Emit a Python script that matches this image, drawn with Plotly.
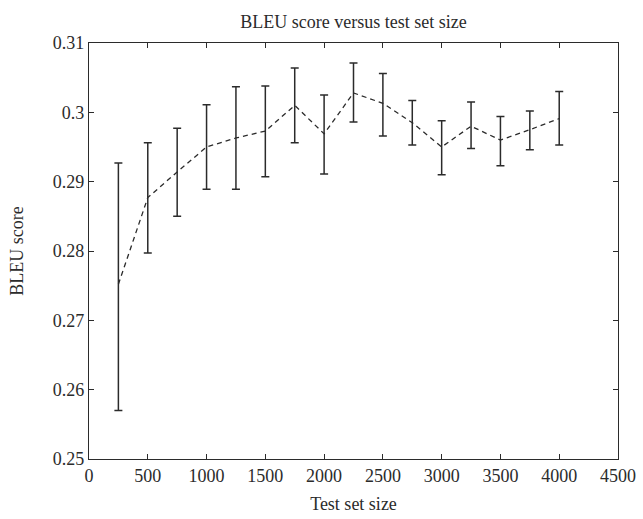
import plotly.graph_objects as go

# Test set sizes and mean BLEU scores with upper/lower error bounds
test_sizes = [250, 500, 750, 1000, 1250, 1500, 1750, 2000, 2250, 2500, 2750, 3000, 3250, 3500, 3750, 4000]
bleu_mean = [0.2752, 0.2877, 0.2914, 0.2950, 0.2963, 0.2973, 0.3010, 0.2969, 0.3028, 0.3013,
             0.2985, 0.2950, 0.2980, 0.2960, 0.2975, 0.2991]
bleu_upper = [0.2927, 0.2956, 0.2977, 0.3011, 0.3037, 0.3038, 0.3064, 0.3025, 0.3071, 0.3056,
              0.3017, 0.2988, 0.3015, 0.2994, 0.3002, 0.3030]
bleu_lower = [0.2570, 0.2797, 0.2850, 0.2889, 0.2889, 0.2907, 0.2956, 0.2911, 0.2986, 0.2966,
              0.2953, 0.2910, 0.2948, 0.2923, 0.2946, 0.2953]

x_ticks = [0, 500, 1000, 1500, 2000, 2500, 3000, 3500, 4000, 4500]
y_ticks = [0.25, 0.26, 0.27, 0.28, 0.29, 0.30, 0.31]
y_tick_text = ["0.25", "0.26", "0.27", "0.28", "0.29", "0.3", "0.31"]

err_plus = [u - m for u, m in zip(bleu_upper, bleu_mean)]
err_minus = [m - l for m, l in zip(bleu_mean, bleu_lower)]

ink = "#2b2b2b"
font_family = "Liberation Serif, Times New Roman, serif"

fig = go.Figure()
fig.add_trace(go.Scatter(
    x=test_sizes,
    y=bleu_mean,
    mode="lines",
    line=dict(color=ink, width=1.3, dash="5px,4px"),
    error_y=dict(type="data", symmetric=False, array=err_plus, arrayminus=err_minus,
                 color=ink, thickness=1.5, width=4),
    showlegend=False,
))

axis_common = dict(
    showgrid=False, zeroline=False, showline=True, linecolor=ink, linewidth=1.3,
    mirror="ticks", ticks="inside", ticklen=5, tickcolor=ink, tickwidth=1.2,
    tickfont=dict(family=font_family, size=18, color=ink), automargin=False,
)

fig.update_layout(
    width=643, height=519,
    margin=dict(l=89, r=25, t=43, b=60),
    paper_bgcolor="white", plot_bgcolor="white",
    font=dict(family=font_family, color=ink),
    title=dict(text="BLEU score versus test set size", x=0.5, xanchor="center",
               xref="paper", y=0.958, yanchor="middle",
               font=dict(family=font_family, size=18, color=ink)),
    xaxis=dict(range=[0, 4500], tickvals=x_ticks, ticktext=[str(v) for v in x_ticks],
               title=dict(text="Test set size", font=dict(family=font_family, size=18, color=ink),
                          standoff=12),
               **axis_common),
    yaxis=dict(range=[0.25, 0.31], tickvals=y_ticks, ticktext=y_tick_text,
               title=dict(text="BLEU score", font=dict(family=font_family, size=18, color=ink),
                          standoff=24),
               **axis_common),
)

fig.write_html("out.html")
